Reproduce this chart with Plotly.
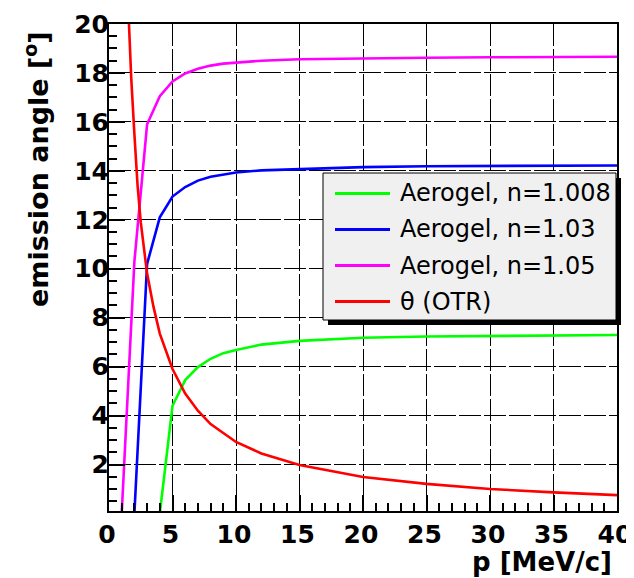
import plotly.graph_objects as go

# ---- data ----
p_green = [4, 5, 6, 7, 8, 9, 10, 12, 15, 20, 25, 30, 35, 40]
ang_green = [0.0, 4.4, 5.45, 5.98, 6.32, 6.55, 6.68, 6.9, 7.05, 7.18, 7.23, 7.26, 7.28, 7.29]

p_blue = [2, 3, 4, 5, 6, 7, 8, 9, 10, 12, 15, 20, 25, 30, 35, 40]
ang_blue = [0.0, 10.2, 12.1, 12.95, 13.34, 13.6, 13.76, 13.86, 13.93, 14.02, 14.08, 14.15, 14.19, 14.2, 14.21, 14.22]

p_mag = [1, 2, 3, 4, 5, 6, 7, 8, 9, 10, 12, 15, 20, 25, 30, 35, 40]
ang_mag = [0.0, 10.3, 15.9, 17.05, 17.65, 17.98, 18.17, 18.3, 18.38, 18.43, 18.5, 18.56, 18.6, 18.62, 18.64, 18.65, 18.66]

p_red = [1.25, 1.5, 1.75, 2.0, 2.25, 2.5, 2.75, 3.0, 3.5, 4.0, 5, 6, 7, 8, 10, 12, 15, 20, 25, 30, 35, 40]
ang_red = [24.0, 20.6, 17.8, 15.5, 13.4, 11.9, 10.75, 9.8, 8.45, 7.35, 5.9, 4.9, 4.2, 3.65, 2.92, 2.45, 1.98, 1.49, 1.21, 1.0, 0.86, 0.75]

x_ticks = [0, 5, 10, 15, 20, 25, 30, 35, 40]
y_ticks = [2, 4, 6, 8, 10, 12, 14, 16, 18, 20]

series_names = ["Aerogel, n=1.008", "Aerogel, n=1.03", "Aerogel, n=1.05", "\u03b8 (OTR)"]
series_colors = ["#00ff00", "#0000ff", "#ff00ff", "#ff0000"]

x_title = "p [MeV/c]"
y_title = "emission angle [<sup>o</sup>]"

# ---- figure ----
# the page body adds an 8px offset; plot area wanted at x 109..617, y 24..511 on screen
OFF = 8
W, H = 634 - OFF, 578 - OFF
PL, PR, PT, PB = 109, 617, 24, 511
PW, PH = PR - PL, PB - PT


def px(xp):
    return (xp - PL) / PW


def py(yp):
    return (PB - yp) / PH


fig = go.Figure()
for xs, ys, name, col in zip([p_green, p_blue, p_mag, p_red],
                             [ang_green, ang_blue, ang_mag, ang_red],
                             series_names, series_colors):
    fig.add_trace(go.Scatter(x=xs, y=ys, mode="lines", name=name,
                             line=dict(color=col, width=2.6), showlegend=False))

tickfont = dict(family="DejaVu Sans", size=25, color="black", weight="bold")
common = dict(showline=True, linewidth=2, linecolor="black", mirror=True,
              ticks="inside", ticklen=16, tickwidth=1.5, tickcolor="black",
              showgrid=True, gridcolor="black", gridwidth=1.2, griddash="22px,3px",
              zeroline=False, tickfont=tickfont, ticklabeloverflow="allow",
              tickmode="array", automargin=False)

fig.update_xaxes(range=[0, 40.0001], tickvals=x_ticks, ticktext=[str(v) for v in x_ticks],
                 ticklabelshift=-2,
                 minor=dict(dtick=1, tick0=0, ticks="inside", ticklen=8, tickwidth=1.5,
                            tickcolor="black", showgrid=False), **common)
fig.update_yaxes(range=[0.1, 20], tickvals=y_ticks, ticktext=[str(v) for v in y_ticks],
                 ticklabelstandoff=-7,
                 minor=dict(dtick=0.5, tick0=0, ticks="inside", ticklen=8, tickwidth=1.5,
                            tickcolor="black", showgrid=False), **common)

shapes = []
# legend shadow and box
shapes.append(dict(type="rect", xref="paper", yref="paper",
                   x0=px(328), x1=px(621), y0=py(325), y1=py(178),
                   fillcolor="black", line=dict(width=0), layer="above"))
shapes.append(dict(type="rect", xref="paper", yref="paper",
                   x0=px(323), x1=px(616), y0=py(320), y1=py(173),
                   fillcolor="#f0f0f0", line=dict(color="black", width=1), layer="above"))
annotations = []
entry_y = [193.5, 229.5, 265.5, 301.5]
for yy, name, col in zip(entry_y, series_names, series_colors):
    shapes.append(dict(type="line", xref="paper", yref="paper",
                       x0=px(335), x1=px(390), y0=py(yy), y1=py(yy),
                       line=dict(color=col, width=3), layer="above"))
    annotations.append(dict(text=name, xref="paper", yref="paper",
                            x=px(398), y=py(yy), xanchor="left", yanchor="middle",
                            showarrow=False,
                            font=dict(family="DejaVu Sans", size=24, color="black")))

annotations.append(dict(text=x_title, xref="paper", yref="paper",
                        x=1, y=0, xanchor="right", yanchor="top", xshift=-4, yshift=-35,
                        showarrow=False, borderpad=0,
                        font=dict(family="DejaVu Sans", size=26, color="black", weight="bold")))
annotations.append(dict(text=y_title, xref="paper", yref="paper", textangle=-90,
                        x=px(37), y=py(30), xanchor="center", yanchor="top",
                        showarrow=False, borderpad=0,
                        font=dict(family="DejaVu Sans", size=27, color="black", weight="bold")))

fig.update_layout(width=W, height=H,
                  margin=dict(l=PL - OFF, r=W + OFF - PR, t=PT - OFF, b=H + OFF - PB,
                              autoexpand=False),
                  paper_bgcolor="white", plot_bgcolor="white",
                  shapes=shapes, annotations=annotations, showlegend=False)

fig.write_html("out.html")
